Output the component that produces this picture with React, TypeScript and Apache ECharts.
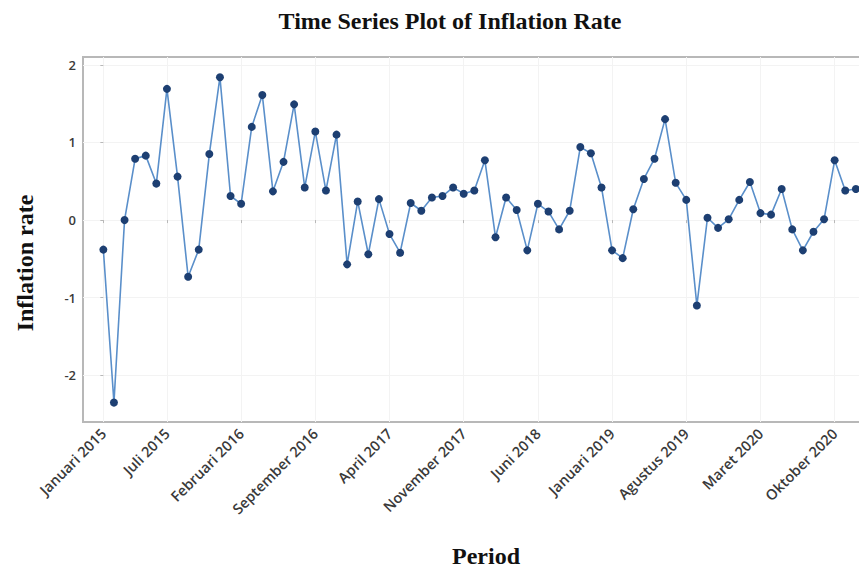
import React, { useEffect, useRef } from "react";
import * as echarts from "echarts";

// Monthly inflation rate, Januari 2015 – Desember 2020
const monthNames = [
  "Januari", "Februari", "Maret", "April", "Mei", "Juni",
  "Juli", "Agustus", "September", "Oktober", "November", "Desember",
];
const years = [2015, 2016, 2017, 2018, 2019, 2020];
const periods: string[] = years.flatMap((y) => monthNames.map((m) => `${m} ${y}`));

const inflation = [
  -0.38, -2.35, 0.0, 0.79, 0.83, 0.47, 1.69, 0.56, -0.73, -0.38, 0.85, 1.84,
  0.31, 0.21, 1.2, 1.61, 0.37, 0.75, 1.49, 0.42, 1.14, 0.38, 1.1, -0.57,
  0.24, -0.44, 0.27, -0.18, -0.42, 0.22, 0.12, 0.29, 0.31, 0.42, 0.34, 0.38,
  0.77, -0.22, 0.29, 0.13, -0.39, 0.21, 0.11, -0.12, 0.12, 0.94, 0.86, 0.42,
  -0.39, -0.49, 0.14, 0.53, 0.79, 1.3, 0.48, 0.26, -1.1, 0.03, -0.1, 0.01,
  0.26, 0.49, 0.09, 0.07, 0.4, -0.12, -0.39, -0.15, 0.01, 0.77, 0.38, 0.4,
];

// Labelled periods on the time axis (indices into `periods`)
const xTickIndices = [0, 6, 13, 20, 27, 34, 41, 48, 55, 62, 69];
const yTickValues = [-2, -1, 0, 1, 2];

const serif = "'Liberation Serif', 'DejaVu Serif', serif";
const sans = "'Open Sans', 'Noto Sans', sans-serif";

export default function App() {
  const ref = useRef<HTMLDivElement>(null);

  useEffect(() => {
    if (!ref.current) return;
    const chart = echarts.init(ref.current, null, { renderer: "svg" });
    chart.setOption({
      animation: false,
      backgroundColor: "#ffffff",
      grid: {
        left: 83,
        right: 5,
        top: 57,
        bottom: 149,
        show: true,
        borderColor: "#b8b8b8",
        borderWidth: 2,
        backgroundColor: "transparent",
      },
      xAxis: {
        type: "value",
        min: -1.92,
        max: 71.58,
        axisLine: { show: false },
        axisTick: {
          show: true,
          customValues: xTickIndices,
          length: 3,
          lineStyle: { color: "#b8b8b8" },
        },
        axisLabel: {
          customValues: xTickIndices,
          formatter: (v: number) => periods[Math.round(v)] ?? "",
          rotate: 45,
          margin: 9,
          color: "#3a3a3a",
          fontFamily: sans,
          fontWeight: 600,
          fontSize: 14.5,
        },
        splitLine: { show: true, lineStyle: { color: "#f3f3f3", width: 1 } },
      },
      yAxis: {
        type: "value",
        min: -2.6,
        max: 2.1,
        axisLine: { show: false },
        axisTick: {
          show: true,
          customValues: yTickValues,
          length: 3,
          lineStyle: { color: "#b8b8b8" },
        },
        axisLabel: {
          customValues: yTickValues,
          margin: 7,
          color: "#3a3a3a",
          fontFamily: sans,
          fontWeight: 600,
          fontSize: 13,
        },
        splitLine: { show: true, lineStyle: { color: "#f3f3f3", width: 1 } },
      },
      series: [
        {
          type: "line",
          data: inflation.map((v, i) => [i, v]),
          symbol: "circle",
          symbolSize: 8,
          lineStyle: { color: "#5a8fca", width: 1.6 },
          itemStyle: { color: "#1d3f72" },
        },
      ],
      graphic: [
        {
          type: "text",
          x: 450,
          y: 21,
          style: {
            text: "Time Series Plot of Inflation Rate",
            fontFamily: serif,
            fontWeight: "bold",
            fontSize: 24,
            fill: "#111",
            align: "center",
            verticalAlign: "middle",
          },
        },
        {
          type: "text",
          x: 25,
          y: 263,
          rotation: Math.PI / 2,
          style: {
            text: "Inflation rate",
            fontFamily: serif,
            fontWeight: "bold",
            fontSize: 24,
            fill: "#111",
            align: "center",
            verticalAlign: "middle",
          },
        },
        {
          type: "text",
          x: 486,
          y: 556,
          style: {
            text: "Period",
            fontFamily: serif,
            fontWeight: "bold",
            fontSize: 24,
            fill: "#111",
            align: "center",
            verticalAlign: "middle",
          },
        },
      ],
    });
    return () => chart.dispose();
  }, []);

  return <div ref={ref} style={{ width: 867, height: 571, marginLeft: -8, marginTop: -8 }} />;
}
